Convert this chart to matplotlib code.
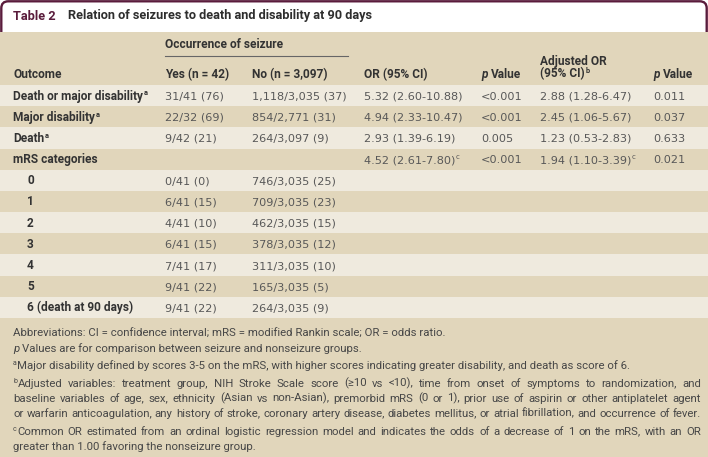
import matplotlib
matplotlib.use("Agg")
import matplotlib.pyplot as plt
from matplotlib.patches import Rectangle, FancyBboxPatch

# ---------------- data ----------------
title_tag = "Table 2"
title_text = "Relation of seizures to death and disability at 90 days"
group_header = "Occurrence of seizure"
col_headers = ["Outcome", "Yes (n = 42)", "No (n = 3,097)", "OR (95% CI)", "p Value",
               "Adjusted OR", "(95% CI)", "p Value"]

outcomes = ["Death or major disability", "Major disability", "Death", "mRS categories",
            "0", "1", "2", "3", "4", "5", "6 (death at 90 days)"]
outcome_sup = ["a", "a", "a", "", "", "", "", "", "", "", ""]
outcome_indent = [False, False, False, False, True, True, True, True, True, True, True]

yes_vals = ["31/41 (76)", "22/32 (69)", "9/42 (21)", "", "0/41 (0)", "6/41 (15)",
            "4/41 (10)", "6/41 (15)", "7/41 (17)", "9/41 (22)", "9/41 (22)"]
no_vals = ["1,118/3,035 (37)", "854/2,771 (31)", "264/3,097 (9)", "", "746/3,035 (25)",
           "709/3,035 (23)", "462/3,035 (15)", "378/3,035 (12)", "311/3,035 (10)",
           "165/3,035 (5)", "264/3,035 (9)"]
or_vals = ["5.32 (2.60-10.88)", "4.94 (2.33-10.47)", "2.93 (1.39-6.19)", "4.52 (2.61-7.80)"]
or_sup = ["", "", "", "c"]
p_vals = ["<0.001", "<0.001", "0.005", "<0.001"]
adj_or_vals = ["2.88 (1.28-6.47)", "2.45 (1.06-5.67)", "1.23 (0.53-2.83)", "1.94 (1.10-3.39)"]
adj_or_sup = ["", "", "", "c"]
adj_p_vals = ["0.011", "0.037", "0.633", "0.021"]

footnotes = [
    ("", "Abbreviations: CI = confidence interval; mRS = modified Rankin scale; OR = odds ratio.", False),
    ("p", "Values are for comparison between seizure and nonseizure groups.", False),
    ("a", "Major disability defined by scores 3-5 on the mRS, with higher scores indicating greater disability, and death as score of 6.", False),
    ("b", "Adjusted variables: treatment group, NIH Stroke Scale score (\u226510 vs <10), time from onset of symptoms to randomization, and", True),
    ("", "baseline variables of age, sex, ethnicity (Asian vs non-Asian), premorbid mRS (0 or 1), prior use of aspirin or other antiplatelet agent", True),
    ("", "or warfarin anticoagulation, any history of stroke, coronary artery disease, diabetes mellitus, or atrial fibrillation, and occurrence of fever.", True),
    ("c", "Common OR estimated from an ordinal logistic regression model and indicates the odds of a decrease of 1 on the mRS, with an OR", True),
    ("", "greater than 1.00 favoring the nonseizure group.", False),
]
foot_y = [333, 348, 365, 383, 398, 413, 431, 446]

# ---------------- style ----------------
W, H = 708, 457
TAN = "#e1d6bb"
LIGHT = "#efeade"
MAROON = "#5a1c3c"
DARK = "#333333"
DATA = "#585858"
FOOT = "#474747"

BOLD_FAM = "Roboto"
DATA_FAM = "DejaVu Sans"
FOOT_FAM = "Roboto"

fig = plt.figure(figsize=(W / 100, H / 100), dpi=100)
ax = fig.add_axes([0, 0, 1, 1])
ax.set_xlim(0, W)
ax.set_ylim(H, 0)
ax.axis("off")
renderer = fig.canvas.get_renderer()


def text_width(s, **kw):
    t = ax.text(0, 0, s, **kw)
    w = t.get_window_extent(renderer).width
    t.remove()
    return w


def fit(s, target, **kw):
    return 10 * target / text_width(s, fontsize=10, **kw)


bold_kw = dict(family=BOLD_FAM, fontweight="bold", color=DARK)
data_kw = dict(family=DATA_FAM, color=DATA)
foot_kw = dict(family=FOOT_FAM, color=FOOT)

BOLD_SIZE = fit("Death or major disability", 131, family=BOLD_FAM, fontweight="bold")
DATA_SIZE = fit("1,118/3,035 (37)", 95, family=DATA_FAM)
TITLE_SIZE = fit(title_text, 308, family=BOLD_FAM, fontweight="bold")
FOOT_SIZE = fit(footnotes[5][1], 686, family=FOOT_FAM)
bold_kw["fontsize"] = BOLD_SIZE
data_kw["fontsize"] = DATA_SIZE
foot_kw["fontsize"] = FOOT_SIZE


def rich(x, yc, parts, z=5):
    """parts: list of (text, kwargs, is_superscript). yc = visual center of caps."""
    cur = x
    yb = yc + 4.0
    for s, kw, sup in parts:
        k = dict(kw)
        if sup:
            k["fontsize"] = kw["fontsize"] * 0.62
            t = ax.text(cur + 0.6, yb - 4.2, s, va="baseline", ha="left", zorder=z, **k)
        else:
            t = ax.text(cur, yb, s, va="baseline", ha="left", zorder=z, **k)
        cur = t.get_window_extent(renderer).x1
    return cur


# ---------------- background ----------------
box = FancyBboxPatch((1.3, 1.3), W - 2.6, 60, boxstyle="round,pad=0,rounding_size=7",
                     fc="white", ec=MAROON, lw=1.7, zorder=1)
ax.add_patch(box)
ax.add_patch(Rectangle((0, 31.5), W, 85 - 31.5, fc=TAN, ec="none", zorder=2))
row_top = 85.0
row_h = 21.18
for i in range(len(outcomes)):
    ax.add_patch(Rectangle((0, row_top + i * row_h), W, row_h,
                           fc=LIGHT if i % 2 == 0 else TAN, ec="none", zorder=2))
foot_top = row_top + len(outcomes) * row_h
ax.add_patch(Rectangle((0, foot_top), W, H - foot_top, fc=TAN, ec="none", zorder=2))

# ---------------- title ----------------
ax.text(13, 16, title_tag, va="center", ha="left", family=BOLD_FAM, fontweight="bold",
        fontsize=TITLE_SIZE, color=MAROON, zorder=5)
ax.text(68, 16, title_text, va="center", ha="left", family=BOLD_FAM, fontweight="bold",
        fontsize=TITLE_SIZE, color="#2e2e2e", zorder=5)

# ---------------- header ----------------
X_LABEL, X_YES, X_NO, X_OR, X_P, X_ADJ, X_P2 = 13, 165, 252, 364, 481, 540, 653
rich(X_YES, 43.5, [(group_header, bold_kw, False)])
ax.plot([X_YES, 348], [55.5, 55.5], color="#666666", lw=0.8, zorder=5)
HY = 74
ital = dict(bold_kw, style="italic")


def p_header(x, yc, label):
    t = ax.text(x, yc + 4.0, "p", va="baseline", ha="left", zorder=5, **ital)
    x1 = t.get_window_extent(renderer).x1 + 3.0
    ax.text(x1, yc + 4.0, label.split(" ", 1)[1], va="baseline", ha="left", zorder=5, **bold_kw)


rich(X_LABEL, HY, [(col_headers[0], bold_kw, False)])
rich(X_YES, HY, [(col_headers[1], bold_kw, False)])
rich(X_NO, HY, [(col_headers[2], bold_kw, False)])
rich(X_OR, HY, [(col_headers[3], bold_kw, False)])
p_header(X_P, HY, col_headers[4])
rich(X_ADJ, 60.5, [(col_headers[5], bold_kw, False)])
rich(X_ADJ, 73.5, [(col_headers[6], bold_kw, False), ("b", bold_kw, True)])
p_header(X_P2, HY, col_headers[7])

# ---------------- body ----------------
for i, name in enumerate(outcomes):
    yc = row_top + (i + 0.5) * row_h
    x0 = X_LABEL + (14 if outcome_indent[i] else 0)
    parts = [(name, bold_kw, False)]
    if outcome_sup[i]:
        parts.append((outcome_sup[i], bold_kw, True))
    rich(x0, yc, parts)
    if yes_vals[i]:
        rich(X_YES, yc, [(yes_vals[i], data_kw, False)])
    if no_vals[i]:
        rich(X_NO, yc, [(no_vals[i], data_kw, False)])
    if i < len(or_vals):
        p = [(or_vals[i], data_kw, False)]
        if or_sup[i]:
            p.append((or_sup[i], data_kw, True))
        rich(X_OR, yc, p)
        rich(X_P, yc, [(p_vals[i], data_kw, False)])
        p = [(adj_or_vals[i], data_kw, False)]
        if adj_or_sup[i]:
            p.append((adj_or_sup[i], data_kw, True))
        rich(X_ADJ, yc, p)
        rich(X_P2, yc, [(adj_p_vals[i], data_kw, False)])

# ---------------- footnotes ----------------
LEFT, RIGHT = 13, 701
for (marker, line, justify), yc in zip(footnotes, foot_y):
    yb = yc + 3.6
    x = LEFT
    if marker == "p":
        t = ax.text(x, yb, "p", va="baseline", style="italic", zorder=5, **foot_kw)
        x = t.get_window_extent(renderer).x1 + 3.0
    elif marker:
        k = dict(foot_kw)
        k["fontsize"] = FOOT_SIZE * 0.62
        t = ax.text(x, yb - 3.8, marker, va="baseline", zorder=5, **k)
        x = t.get_window_extent(renderer).x1 + 0.6
    if justify:
        words = line.split(" ")
        widths = [text_width(wd, **foot_kw) for wd in words]
        gap = (RIGHT - x - sum(widths)) / (len(words) - 1)
        cx = x
        for wd, wdt in zip(words, widths):
            ax.text(cx, yb, wd, va="baseline", ha="left", zorder=5, **foot_kw)
            cx += wdt + gap
    else:
        ax.text(x, yb, line, va="baseline", ha="left", zorder=5, **foot_kw)

fig.savefig("out.png", dpi=100)
